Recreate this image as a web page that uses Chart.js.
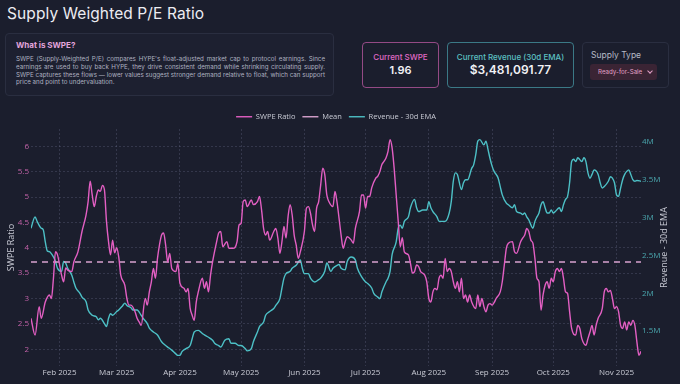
<!DOCTYPE html>
<html>
<head>
<meta charset="utf-8">
<title>Supply Weighted P/E Ratio</title>
<script src="https://cdn.jsdelivr.net/npm/chart.js@4.4.1/dist/chart.umd.min.js"></script>
<style>
  body { margin: 0; width: 680px; height: 384px; background: #1b1e2d; font-family: Inter, 'Open Sans', sans-serif; color: #ececf2; overflow: hidden; position: relative; }
  h1 { position: absolute; left: 7px; top: 4px; margin: 0; font-size: 15.5px; font-weight: 400; letter-spacing: 0.1px; }
  .info { position: absolute; left: 5px; top: 33px; width: 327px; height: 61px; border: 1px solid #2a2e40; border-radius: 4px; background: #1d2030; }
  .info h2 { position: absolute; left: 10px; top: 6px; margin: 0; font-size: 8px; font-weight: 700; color: #e2a4dc; }
  .info p { position: absolute; left: 10px; top: 21px; width: 309px; margin: 0; font-size: 6.2px; line-height: 7.8px; color: #aeb2c0; text-align: justify; }
  .card { position: absolute; top: 42px; height: 44px; border: 1px solid; border-radius: 4px; text-align: center; }
  .card .label { position: absolute; left: 0; right: 0; top: 9px; font-size: 8px; font-weight: 500; }
  .card .value { position: absolute; left: 0; right: 0; top: 20px; font-size: 11px; font-weight: 600; color: #f2f2f6; }
  #swpeCard { left: 362px; width: 75px; border-color: rgba(214, 98, 182, 0.65); }
  #swpeCard .label { color: #e06ac6; }
  #revCard { left: 447px; width: 125px; border-color: rgba(72, 160, 172, 0.7); }
  #revCard .label { color: #5cc0c2; }
  #revCard .value { font-size: 12px; top: 19px; }
  #supplyCard { left: 582px; width: 85px; border-color: #2a2e40; text-align: left; }
  #supplyCard .label { left: 8px; top: 7px; color: #b6bac6; font-size: 8.5px; font-weight: 400; }
  .select { position: absolute; left: 7px; top: 21px; width: 67px; height: 16px; background: #3a2434; border-radius: 3px; }
  .select span { position: absolute; left: 8px; top: 4px; font-size: 6.2px; color: #e2a0c8; }
  .select i { position: absolute; right: 5px; top: 5px; width: 3px; height: 3px; border-right: 1px solid #e2a0c8; border-bottom: 1px solid #e2a0c8; transform: rotate(45deg); }
  #chartWrap { position: absolute; left: 0; top: 100px; width: 680px; height: 284px; }
</style>
</head>
<body>
<h1>Supply Weighted P/E Ratio</h1>
<div class="info">
  <h2>What is SWPE?</h2>
  <p>SWPE (Supply-Weighted P/E) compares HYPE's float-adjusted market cap to protocol earnings. Since earnings are used to buy back HYPE, they drive consistent demand while shrinking circulating supply. SWPE captures these flows — lower values suggest stronger demand relative to float, which can support price and point to undervaluation.</p>
</div>
<div class="card" id="swpeCard"><div class="label">Current SWPE</div><div class="value">1.96</div></div>
<div class="card" id="revCard"><div class="label">Current Revenue (30d EMA)</div><div class="value">$3,481,091.77</div></div>
<div class="card" id="supplyCard"><div class="label">Supply Type</div><div class="select"><span>Ready-for-Sale</span><i></i></div></div>
<div id="chartWrap"><canvas id="swpeChart"></canvas></div>
<script>
const YEAR = '2025';

// SWPE ratio (MM-DD)
const swpeDates = [
  '01-18','01-20','01-22','01-23','01-25','01-27','01-28','01-29','01-30','01-31',
  '02-02','02-03','02-04','02-05','02-07','02-08','02-10','02-12','02-14','02-15','02-16','02-17','02-18','02-19','02-20','02-21','02-22','02-23','02-24','02-25','02-26','02-27','02-28',
  '03-01','03-02','03-03','03-05','03-06','03-07','03-08','03-10','03-11','03-12','03-13','03-15','03-16','03-17','03-18','03-19','03-20','03-21','03-22','03-23','03-24','03-25','03-26','03-27','03-28','03-30','03-31',
  '04-01','04-03','04-04','04-05','04-06','04-07','04-08','04-09','04-10','04-12','04-13','04-14','04-15','04-16','04-17','04-19','04-20','04-21','04-22','04-24','04-25','04-27','04-29','04-30',
  '05-01','05-02','05-03','05-04','05-06','05-07','05-09','05-10','05-11','05-12','05-13','05-14','05-15','05-17','05-18','05-19','05-20','05-21','05-22','05-23','05-24','05-25','05-26','05-27','05-28','05-29','05-30',
  '06-01','06-02','06-03','06-04','06-05','06-06','06-07','06-08','06-09','06-10','06-11','06-12','06-13','06-15','06-16','06-17','06-18','06-19','06-20','06-21','06-22','06-24','06-25','06-26','06-28','06-29','06-30',
  '07-01','07-02','07-03','07-04','07-06','07-07','07-08','07-09','07-10','07-11','07-12','07-13','07-14','07-15','07-16','07-17','07-18','07-19','07-20','07-22','07-23','07-24','07-25','07-26','07-27','07-28','07-30','07-31',
  '08-01','08-02','08-03','08-04','08-05','08-06','08-07','08-08','08-09','08-10','08-11','08-12','08-13','08-14','08-15','08-16','08-17','08-18','08-19','08-20','08-21','08-22','08-24','08-25','08-26','08-27','08-28','08-29','08-30','08-31',
  '09-01','09-02','09-03','09-05','09-06','09-07','09-08','09-09','09-11','09-12','09-13','09-15','09-16','09-17','09-18','09-19','09-20','09-21','09-22','09-23','09-24','09-25','09-26','09-27','09-28','09-29','09-30',
  '10-01','10-02','10-03','10-04','10-05','10-06','10-07','10-08','10-09','10-10','10-12','10-13','10-14','10-15','10-17','10-18','10-19','10-20','10-21','10-22','10-23','10-25','10-26','10-27','10-28','10-29','10-30','10-31',
  '11-01','11-02','11-03','11-04','11-05','11-06','11-07','11-08','11-09','11-10','11-11','11-12','11-13'
];
const swpeValues = [
  2.61,2.28,2.84,2.61,2.93,3.07,3.00,3.40,3.92,3.86,
  3.46,3.33,3.60,3.56,3.53,3.72,3.92,4.32,4.65,4.91,5.31,5.04,4.81,5.01,5.14,5.11,5.23,5.14,4.52,4.12,3.86,4.15,3.90,
  4.00,3.82,3.46,3.26,3.00,2.87,2.87,2.74,2.61,2.54,2.47,3.00,2.87,3.13,3.33,3.59,3.40,3.79,4.06,4.25,4.29,4.05,3.72,3.89,3.59,3.53,3.69,
  3.30,3.20,3.13,3.20,2.81,2.67,2.57,2.93,3.13,3.40,3.20,3.33,3.13,3.46,3.72,4.12,4.29,4.32,4.02,4.12,3.99,3.99,4.12,4.45,
  4.48,4.91,4.94,4.81,4.94,4.85,4.91,5.01,4.75,4.38,4.25,4.32,4.15,4.32,4.38,4.19,3.89,4.12,4.42,4.19,4.61,4.85,4.65,4.25,4.05,3.79,3.92,
  4.32,4.78,4.81,4.68,4.45,4.32,4.78,4.91,5.24,5.57,5.44,5.04,4.91,4.81,5.11,4.90,4.58,4.25,3.99,4.12,4.22,4.15,4.09,4.38,4.71,5.04,5.04,
  4.78,5.01,5.01,5.18,5.37,5.41,5.50,5.64,5.70,5.77,5.90,6.13,5.97,5.57,5.04,4.52,4.02,4.20,3.92,3.86,3.69,3.50,3.53,3.66,3.63,3.53,3.46,3.33,
  3.00,2.93,3.13,3.20,3.17,3.40,3.46,3.40,3.79,3.53,3.59,3.53,3.33,3.20,3.33,3.13,3.40,3.00,3.07,2.93,3.07,2.93,2.80,3.07,2.84,3.00,2.84,2.74,2.87,2.90,
  2.87,2.92,3.00,3.13,3.33,3.66,3.99,4.09,4.12,3.92,3.89,4.12,4.19,4.25,4.38,4.32,4.15,4.09,3.79,3.40,3.33,2.77,3.07,3.26,3.33,3.20,3.40,
  3.33,3.53,3.59,3.53,3.59,3.40,3.13,3.10,2.74,2.41,2.28,2.47,2.41,2.21,2.08,2.21,2.34,2.47,2.28,2.47,2.61,2.80,3.13,3.20,3.13,3.16,3.00,2.80,
  2.84,2.74,2.47,2.41,2.54,2.38,2.54,2.47,2.57,2.47,2.14,1.88,1.96
];
const swpeMean = 3.72;

// Revenue, 30d EMA, in millions of USD (MM-DD)
const revenueDates = [
  '01-18','01-20','01-21','01-23','01-24','01-25','01-26','01-27','01-29','01-30','01-31',
  '02-02','02-03','02-04','02-05','02-07','02-08','02-09','02-11','02-12','02-14','02-15','02-17','02-19','02-20','02-21','02-23','02-24','02-25','02-26','02-27',
  '03-01','03-02','03-04','03-05','03-06','03-08','03-09','03-11','03-13','03-14','03-16','03-17','03-19','03-21','03-23','03-25','03-26','03-28','03-30','03-31',
  '04-01','04-02','04-04','04-06','04-07','04-08','04-10','04-12','04-13','04-15','04-17','04-18','04-20','04-21','04-23','04-25','04-26','04-28','04-30',
  '05-01','05-03','05-04','05-06','05-07','05-09','05-10','05-12','05-13','05-15','05-17','05-18','05-20','05-21','05-22','05-23','05-25','05-26','05-28','05-30','05-31',
  '06-01','06-03','06-04','06-06','06-08','06-09','06-11','06-12','06-14','06-15','06-17','06-18','06-19','06-21','06-22','06-24','06-26','06-27','06-29',
  '07-01','07-02','07-04','07-05','07-07','07-08','07-09','07-11','07-12','07-13','07-14','07-16','07-17','07-18','07-19','07-20','07-22','07-23','07-25','07-26','07-27','07-29','07-31',
  '08-01','08-02','08-03','08-05','08-06','08-08','08-09','08-11','08-12','08-13','08-14','08-15','08-17','08-18','08-19','08-20','08-22','08-23','08-24','08-25','08-26','08-28','08-29','08-30','08-31',
  '09-01','09-02','09-04','09-05','09-06','09-08','09-09','09-11','09-12','09-13','09-15','09-16','09-17','09-18','09-19','09-21','09-22','09-23','09-24','09-25','09-26','09-27','09-28','09-29','09-30',
  '10-01','10-02','10-04','10-05','10-06','10-07','10-08','10-09','10-10','10-11','10-12','10-13','10-15','10-16','10-17','10-18','10-19','10-20','10-21','10-23','10-24','10-25','10-26','10-28','10-29','10-30','10-31',
  '11-01','11-02','11-03','11-04','11-05','11-06','11-07','11-08','11-09','11-10','11-11','11-13'
];
const revenueMillions = [
  2.86,3.01,2.95,2.86,2.84,2.68,2.56,2.55,2.48,2.42,2.33,
  2.29,2.42,2.40,2.33,2.24,2.15,2.07,2.00,1.95,1.89,1.78,1.71,1.69,1.65,1.67,1.60,1.56,1.67,1.73,1.71,
  1.76,1.78,1.84,1.87,1.84,1.81,1.78,1.78,1.71,1.67,1.60,1.54,1.49,1.45,1.36,1.31,1.29,1.25,1.20,1.18,
  1.18,1.23,1.27,1.31,1.40,1.49,1.51,1.47,1.45,1.42,1.38,1.34,1.31,1.29,1.38,1.40,1.34,1.34,1.31,
  1.31,1.27,1.24,1.27,1.36,1.49,1.56,1.62,1.71,1.76,1.80,1.84,1.93,2.07,2.20,2.26,2.29,2.33,2.37,2.44,2.33,
  2.26,2.26,2.20,2.15,2.18,2.20,2.29,2.40,2.29,2.33,2.37,2.38,2.33,2.31,2.42,2.48,2.44,2.33,2.22,
  2.15,2.13,2.07,2.00,1.95,1.93,2.02,2.15,2.20,2.29,2.51,2.68,2.86,2.90,2.86,2.95,3.01,3.13,3.24,3.13,3.08,3.10,3.10,
  3.21,3.13,3.08,3.01,2.95,2.95,2.95,3.06,3.21,3.48,3.59,3.57,3.37,3.46,3.50,3.50,3.65,3.70,3.83,4.01,4.03,3.96,4.01,3.90,3.78,
  3.68,3.61,3.52,3.41,3.30,3.19,3.17,3.13,3.17,3.08,3.06,3.04,3.06,3.01,2.97,2.86,2.95,3.01,3.06,3.17,3.21,3.13,3.06,3.06,3.10,
  3.06,3.08,3.13,3.08,3.17,3.24,3.28,3.46,3.74,3.77,3.74,3.79,3.74,3.79,3.74,3.59,3.52,3.57,3.63,3.57,3.46,3.39,3.41,3.48,3.54,3.52,3.46,
  3.30,3.28,3.39,3.50,3.57,3.61,3.63,3.57,3.50,3.48,3.49,3.48
];

const monthTicks = ['02-01','03-01','04-01','05-01','06-01','07-01','08-01','09-01','10-01','11-01'];
const monthNames = ['Jan','Feb','Mar','Apr','May','Jun','Jul','Aug','Sep','Oct','Nov','Dec'];
const swpeTicks = [2, 2.5, 3, 3.5, 4, 4.5, 5, 5.5, 6];
const revenueTicks = [1.5, 2, 2.5, 3, 3.5, 4];

function toTime(md) {
  return Date.parse(YEAR + '-' + md + 'T00:00:00Z');
}

const swpePoints = swpeDates.map((d, i) => ({ x: toTime(d), y: swpeValues[i] }));
const revenuePoints = revenueDates.map((d, i) => ({ x: toTime(d), y: revenueMillions[i] }));
const firstDay = toTime(swpeDates[0]);
const lastDay = toTime(swpeDates[swpeDates.length - 1]);

// keep the legend row short so the plot starts right under it
const legendHeight = {
  id: 'legendHeight',
  beforeInit(chart) {
    const fit = chart.legend.fit;
    chart.legend.fit = function () {
      fit.call(this);
      this.height = 23;
    };
  }
};

// right axis title reads bottom-to-top like the left one
const rightTitle = {
  id: 'rightTitle',
  afterDraw(chart) {
    const ctx = chart.ctx;
    const area = chart.chartArea;
    ctx.save();
    ctx.translate(chart.width - 16, (area.top + area.bottom) / 2);
    ctx.rotate(-Math.PI / 2);
    ctx.font = "9px 'Open Sans'";
    ctx.fillStyle = '#c8cad4';
    ctx.textAlign = 'center';
    ctx.textBaseline = 'middle';
    ctx.fillText('Revenue - 30d EMA', 0, 0);
    ctx.restore();
  }
};

Chart.defaults.font.family = "'Open Sans', sans-serif";
Chart.defaults.font.size = 8;
Chart.defaults.color = '#c8cad4';

const gridColor = 'rgba(140, 146, 180, 0.22)';

const ctx = document.getElementById('swpeChart').getContext('2d');
const chart = new Chart(ctx, {
  type: 'line',
  data: {
    datasets: [{
      label: 'SWPE Ratio',
      data: swpePoints,
      yAxisID: 'y',
      borderColor: '#e35fc3',
      borderWidth: 1.4,
      pointRadius: 0,
      pointStyle: 'line',
      cubicInterpolationMode: 'monotone'
    }, {
      label: 'Mean',
      data: [{ x: firstDay, y: swpeMean }, { x: lastDay, y: swpeMean }],
      yAxisID: 'y',
      borderColor: '#d9a3cf',
      borderWidth: 1.4,
      borderDash: [6, 5],
      pointRadius: 0,
      pointStyle: 'line'
    }, {
      label: 'Revenue - 30d EMA',
      data: revenuePoints,
      yAxisID: 'y1',
      borderColor: '#4dc0c6',
      borderWidth: 1.4,
      pointRadius: 0,
      pointStyle: 'line',
      cubicInterpolationMode: 'monotone'
    }]
  },
  options: {
    responsive: true,
    maintainAspectRatio: false,
    animation: false,
    layout: { padding: { top: 6, left: 0, right: 8, bottom: 0 } },
    plugins: {
      legend: {
        labels: {
          usePointStyle: true,
          pointStyleWidth: 16,
          boxHeight: 7,
          padding: 7,
          color: '#c8cad4',
          font: { size: 7.5 }
        }
      },
      tooltip: { enabled: false }
    },
    scales: {
      x: {
        type: 'linear',
        min: firstDay,
        max: lastDay,
        afterBuildTicks: (scale) => {
          scale.ticks = monthTicks.map(m => ({ value: toTime(m) }));
        },
        afterFit: (scale) => { scale.height = 18; },
        ticks: {
          padding: 2,
          maxRotation: 0,
          color: '#c8cad4',
          callback: (value) => {
            const d = new Date(value);
            return monthNames[d.getUTCMonth()] + ' ' + d.getUTCFullYear();
          }
        },
        grid: { color: gridColor, drawTicks: false },
        border: { display: false, dash: [2, 2] }
      },
      y: {
        position: 'left',
        min: 1.67,
        max: 6.34,
        afterBuildTicks: (scale) => {
          scale.ticks = swpeTicks.map(v => ({ value: v }));
        },
        afterFit: (scale) => { scale.width = 31; },
        ticks: { padding: 2, color: '#c262a8', callback: (v) => String(v) },
        grid: { color: gridColor, drawTicks: false },
        border: { display: false, dash: [2, 2] },
        title: { display: true, text: 'SWPE Ratio', color: '#c8cad4', font: { size: 9 }, padding: { top: 6, bottom: 0 } }
      },
      y1: {
        position: 'right',
        min: 1.04,
        max: 4.17,
        afterBuildTicks: (scale) => {
          scale.ticks = revenueTicks.map(v => ({ value: v }));
        },
        afterFit: (scale) => { scale.width = 31; },
        ticks: { padding: 1, color: '#4aa6ad', callback: (v) => v + 'M' },
        grid: { drawOnChartArea: false, drawTicks: false },
        border: { display: false }
      }
    }
  },
  plugins: [legendHeight, rightTitle]
});
</script>
</body>
</html>
